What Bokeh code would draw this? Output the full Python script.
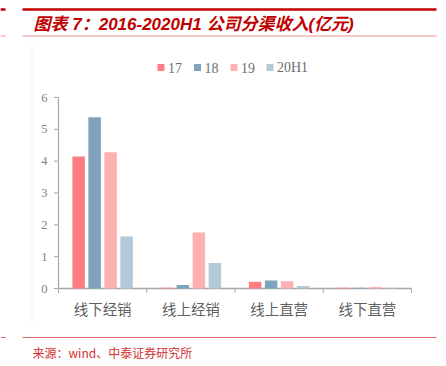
from bokeh.plotting import figure
from bokeh.models import Range1d, ColumnDataSource
from bokeh.core.properties import value
from bokeh.embed import file_html
from bokeh.resources import INLINE

# ---------------- data ----------------
categories = ["线下经销", "线上经销", "线上直营", "线下直营"]
series = ["17", "18", "19", "20H1"]
v17 = [4.15, 0.02, 0.21, 0.02]
v18 = [5.38, 0.11, 0.25, 0.02]
v19 = [4.28, 1.76, 0.23, 0.05]
v20h1 = [1.63, 0.80, 0.08, 0.02]
y_ticks = [0, 1, 2, 3, 4, 5, 6]
title_text = "图表 7：2016-2020H1 公司分渠收入(亿元)"
source_text = "来源：wind、中泰证券研究所"

values = [v17, v18, v19, v20h1]
colors = ["#FF7C80", "#7FA3BD", "#FFB0B3", "#B4C9D7"]

W, H = 446, 366
# plot-area geometry (pixels)
AX_L, AX_R, AX_TOP, AX_BOT = 58, 411, 97, 288
px_per_cat = (AX_R - AX_L) / len(categories)
px_per_val = (AX_BOT - AX_TOP) / 6.0

p = figure(width=W, height=H, output_backend="svg", toolbar_location=None,
           x_range=Range1d(0, W), y_range=Range1d(H, 0),
           x_axis_location=None, y_axis_location=None,
           min_border=0, min_border_left=0, min_border_right=0,
           min_border_top=0, min_border_bottom=0)
p.outline_line_color = None
p.grid.visible = False
p.background_fill_color = "white"
p.border_fill_color = "white"

p.extra_x_ranges = {"cat": Range1d(-AX_L / px_per_cat, (W - AX_L) / px_per_cat)}
p.extra_y_ranges = {"val": Range1d(-(H - AX_BOT) / px_per_val, 6 + AX_TOP / px_per_val)}

# ---------------- decorations (pixel space) ----------------
p.segment(x0=[22, 0], y0=[9, 9], x1=[436, 5], y1=[9, 9], line_color="#C00000", line_width=2.5)
p.segment(x0=[22, 0], y0=[35.5, 35.5], x1=[436, 5], y1=[35.5, 35.5], line_color="#F4B8B8", line_width=1.5)
p.segment(x0=[22, 0], y0=[337, 337], x1=[436, 5], y1=[337, 337], line_color="#E66A6A", line_width=1.2)
p.segment(x0=[31.5], y0=[45], x1=[31.5], y1=[325], line_color="#F3F3F3", line_width=1)

p.text(x=[33], y=[24], text=[title_text], text_font=value("Liberation Sans, Noto Sans CJK SC"),
       text_font_size="17px", text_font_style="bold italic", text_color="#C00000",
       text_baseline="middle", text_align="left")
p.text(x=[32], y=[352], text=[source_text], text_font=value("Noto Sans CJK SC"),
       text_font_size="12px", text_color="#D03030", text_baseline="middle", text_align="left")

# legend
leg_x = [157, 193.5, 230, 266]
for i, name in enumerate(series):
    p.scatter(x=[leg_x[i] + 3.5], y=[67], marker="square", size=7,
              fill_color=colors[i], line_color=None)
    p.text(x=[leg_x[i] + 10.5], y=[67], text=[name], text_font=value("Liberation Serif"),
           text_font_size="14px", text_color="#6E6E6E", text_baseline="middle", text_align="left")

# ---------------- axes (data space) ----------------
axc = "#A6A6A6"
n = len(categories)
p.segment(x0=[0], y0=[0], x1=[0], y1=[6], x_range_name="cat", y_range_name="val",
          line_color=axc, line_width=1.2)
p.segment(x0=[0], y0=[0], x1=[n], y1=[0], x_range_name="cat", y_range_name="val",
          line_color=axc, line_width=1.5)
tick_dx = 4.5 / px_per_cat
tick_dy = 4.5 / px_per_val
p.segment(x0=[-tick_dx] * len(y_ticks), y0=y_ticks, x1=[0] * len(y_ticks), y1=y_ticks,
          x_range_name="cat", y_range_name="val", line_color=axc, line_width=1)
p.segment(x0=list(range(n + 1)), y0=[0] * (n + 1), x1=list(range(n + 1)), y1=[-tick_dy] * (n + 1),
          x_range_name="cat", y_range_name="val", line_color=axc, line_width=1)
p.text(x=[-11 / px_per_cat] * len(y_ticks), y=y_ticks, text=[str(t) for t in y_ticks],
       x_range_name="cat", y_range_name="val", text_font=value("Liberation Serif"),
       text_font_size="12.5px", text_color="#7F7F7F", text_baseline="middle", text_align="right")
p.text(x=[i + 0.5 for i in range(n)], y=[-20 / px_per_val] * n, text=categories,
       x_range_name="cat", y_range_name="val", text_font=value("Noto Sans CJK SC"),
       text_font_size="14.5px", text_color="#5F5F5F", text_baseline="middle", text_align="center")

# ---------------- bars ----------------
step = 16 / px_per_cat
bw = 12.5 / px_per_cat
for k, (name, vals) in enumerate(zip(series, values)):
    off = (k - 1.5) * step
    src = ColumnDataSource(dict(x=[i + 0.5 + off for i in range(n)], top=vals))
    p.vbar(x="x", top="top", bottom=0, width=bw, source=src,
           x_range_name="cat", y_range_name="val",
           fill_color=colors[k], line_color=None)

open("out.html", "w").write(file_html(p, INLINE))
